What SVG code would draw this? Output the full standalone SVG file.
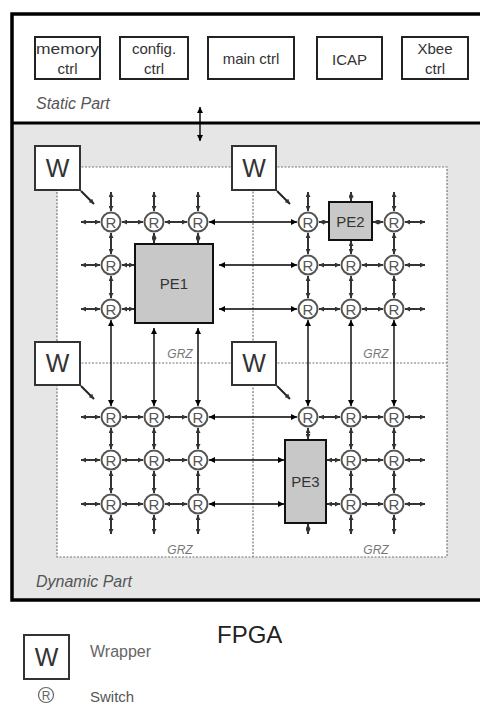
<svg xmlns="http://www.w3.org/2000/svg" width="480" height="706" viewBox="0 0 480 706">
<defs>
<marker id="ag" viewBox="0 0 6 6" refX="6" refY="3" markerWidth="5" markerHeight="5" markerUnits="userSpaceOnUse" orient="auto-start-reverse"><path d="M0,0 L6,3 L0,6 z" fill="#333"/></marker>
<marker id="ab" viewBox="0 0 6 6" refX="6" refY="3" markerWidth="6" markerHeight="6" markerUnits="userSpaceOnUse" orient="auto-start-reverse"><path d="M0,0 L6,3 L0,6 z" fill="#000"/></marker>
</defs>
<style>
text{font-family:"Liberation Sans",Arial,sans-serif}
.box{fill:#fff;stroke:#222;stroke-width:2}
.bt{font-size:15px;fill:#333;text-anchor:middle}
.lab{font-size:16px;font-style:italic;fill:#555}
.grz{font-size:12px;font-style:italic;fill:#777;text-anchor:middle}
.dot{fill:none;stroke:#777;stroke-width:1.2;stroke-dasharray:2 1.5}
.w{fill:#fff;stroke:#333;stroke-width:2}
.wt{font-size:25px;fill:#333;text-anchor:middle}
.sw circle{fill:#fff;stroke:#555;stroke-width:2}
.sw text{font-size:15px;fill:#555;text-anchor:middle}
.pe{fill:#c8c8c8;stroke:#111;stroke-width:2}
.pt{font-size:15px;fill:#333;text-anchor:middle}
.g line{stroke:#333;stroke-width:2;marker-start:url(#ag);marker-end:url(#ag)}
.k line{stroke:#000;stroke-width:1.4;marker-start:url(#ab);marker-end:url(#ab)}
.d line{stroke:#222;stroke-width:2;marker-end:url(#ag)}
</style>
<rect x="12" y="123" width="472" height="477" fill="#e6e6e6"/>
<rect x="57" y="167" width="390" height="390" fill="#fff"/>
<g id="frame">
<rect x="12" y="14" width="472" height="586" fill="none" stroke="#000" stroke-width="3.5"/>
<line x1="12" y1="123" x2="484" y2="123" stroke="#000" stroke-width="3"/>
<text class="lab" x="36" y="109">Static Part</text>
<text class="lab" x="36" y="587">Dynamic Part</text>
<text x="217" y="643" font-size="24" fill="#222">FPGA</text>
</g>
<g id="grz-zones">
<rect class="dot" x="57" y="167" width="390" height="390"/>
<line class="dot" x1="253" y1="167" x2="253" y2="557"/>
<line class="dot" x1="57" y1="363" x2="447" y2="363"/>
<text class="grz" x="180" y="358">GRZ</text>
<text class="grz" x="376" y="358">GRZ</text>
<text class="grz" x="180" y="554">GRZ</text>
<text class="grz" x="376" y="554">GRZ</text>
</g>
<g id="memory-ctrl"><rect class="box" x="35" y="37" width="65" height="42"/><text class="bt" x="67.5" y="54" textLength="63" lengthAdjust="spacingAndGlyphs">memory</text><text class="bt" x="67.5" y="74">ctrl</text></g>
<g id="config-ctrl"><rect class="box" x="120" y="37" width="68" height="42"/><text class="bt" x="154" y="54">config.</text><text class="bt" x="154" y="74">ctrl</text></g>
<g id="main-ctrl"><rect class="box" x="208" y="37" width="86" height="42"/><text class="bt" x="251" y="64">main ctrl</text></g>
<g id="icap"><rect class="box" x="317" y="37" width="65" height="42"/><text class="bt" x="349.5" y="65">ICAP</text></g>
<g id="xbee-ctrl"><rect class="box" x="402" y="37" width="66" height="42"/><text class="bt" x="435" y="54">Xbee</text><text class="bt" x="435" y="74">ctrl</text></g>
<g id="connectors">
<g class="k"><line x1="200" y1="107" x2="200" y2="141"/></g>
<g class="g">
<line x1="100" y1="222" x2="81" y2="222"/><line x1="100" y1="265" x2="81" y2="265"/><line x1="100" y1="309" x2="81" y2="309"/>
<line x1="111" y1="211" x2="111" y2="192"/><line x1="154" y1="211" x2="154" y2="192"/><line x1="198" y1="211" x2="198" y2="192"/>
<line x1="122" y1="222" x2="143" y2="222"/><line x1="165" y1="222" x2="187" y2="222"/>
<line x1="111" y1="233" x2="111" y2="254"/><line x1="111" y1="276" x2="111" y2="298"/>
<line x1="122" y1="265" x2="134" y2="265"/><line x1="122" y1="309" x2="134" y2="309"/>
<line x1="154" y1="233" x2="154" y2="243"/><line x1="198" y1="233" x2="198" y2="243"/>
<line x1="308" y1="211" x2="308" y2="192"/><line x1="351" y1="201" x2="351" y2="192"/><line x1="394" y1="211" x2="394" y2="192"/>
<line x1="319" y1="222" x2="328" y2="222"/><line x1="373" y1="222" x2="383" y2="222"/>
<line x1="405" y1="222" x2="425" y2="222"/><line x1="405" y1="265" x2="425" y2="265"/><line x1="405" y1="309" x2="425" y2="309"/>
<line x1="319" y1="265" x2="340" y2="265"/><line x1="362" y1="265" x2="383" y2="265"/>
<line x1="319" y1="309" x2="340" y2="309"/><line x1="362" y1="309" x2="383" y2="309"/>
<line x1="308" y1="233" x2="308" y2="254"/><line x1="308" y1="276" x2="308" y2="298"/>
<line x1="351" y1="241" x2="351" y2="254"/><line x1="351" y1="276" x2="351" y2="298"/>
<line x1="394" y1="233" x2="394" y2="254"/><line x1="394" y1="276" x2="394" y2="298"/>
<line x1="100" y1="417" x2="81" y2="417"/><line x1="100" y1="460" x2="81" y2="460"/><line x1="100" y1="504" x2="81" y2="504"/>
<line x1="122" y1="417" x2="143" y2="417"/><line x1="165" y1="417" x2="187" y2="417"/>
<line x1="122" y1="460" x2="143" y2="460"/><line x1="165" y1="460" x2="187" y2="460"/>
<line x1="122" y1="504" x2="143" y2="504"/><line x1="165" y1="504" x2="187" y2="504"/>
<line x1="111" y1="428" x2="111" y2="449"/><line x1="111" y1="471" x2="111" y2="493"/>
<line x1="154" y1="428" x2="154" y2="449"/><line x1="154" y1="471" x2="154" y2="493"/>
<line x1="198" y1="428" x2="198" y2="449"/><line x1="198" y1="471" x2="198" y2="493"/>
<line x1="111" y1="515" x2="111" y2="534"/><line x1="154" y1="515" x2="154" y2="534"/><line x1="198" y1="515" x2="198" y2="534"/>
<line x1="319" y1="417" x2="340" y2="417"/><line x1="362" y1="417" x2="383" y2="417"/>
<line x1="308" y1="428" x2="308" y2="439"/>
<line x1="327" y1="460" x2="340" y2="460"/><line x1="362" y1="460" x2="383" y2="460"/>
<line x1="327" y1="504" x2="340" y2="504"/><line x1="362" y1="504" x2="383" y2="504"/>
<line x1="405" y1="417" x2="425" y2="417"/><line x1="405" y1="460" x2="425" y2="460"/><line x1="405" y1="504" x2="425" y2="504"/>
<line x1="351" y1="428" x2="351" y2="449"/><line x1="351" y1="471" x2="351" y2="493"/>
<line x1="394" y1="428" x2="394" y2="449"/><line x1="394" y1="471" x2="394" y2="493"/>
<line x1="351" y1="515" x2="351" y2="534"/><line x1="394" y1="515" x2="394" y2="534"/><line x1="308" y1="524" x2="308" y2="534"/>
</g>
<g class="k">
<line x1="209" y1="222" x2="297" y2="222"/>
<line x1="219" y1="265" x2="297" y2="265"/>
<line x1="219" y1="309" x2="297" y2="309"/>
<line x1="111" y1="320" x2="111" y2="406"/>
<line x1="154" y1="328" x2="154" y2="406"/>
<line x1="198" y1="328" x2="198" y2="406"/>
<line x1="308" y1="320" x2="308" y2="406"/>
<line x1="351" y1="320" x2="351" y2="406"/>
<line x1="394" y1="320" x2="394" y2="406"/>
<line x1="209" y1="417" x2="297" y2="417"/>
<line x1="209" y1="460" x2="284" y2="460"/>
<line x1="209" y1="504" x2="284" y2="504"/>
</g>
<g class="d">
<line x1="81" y1="191" x2="94" y2="204"/>
<line x1="277" y1="191" x2="290" y2="204"/>
<line x1="81" y1="386" x2="94" y2="399"/>
<line x1="277" y1="386" x2="290" y2="399"/>
</g>
</g>
<g id="wrappers">
<g id="w-tl"><rect class="w" x="35" y="146" width="45" height="44"/><text class="wt" x="57.5" y="177">W</text></g>
<g id="w-tr"><rect class="w" x="232" y="146" width="44" height="44"/><text class="wt" x="254" y="177">W</text></g>
<g id="w-bl"><rect class="w" x="35" y="342" width="45" height="43"/><text class="wt" x="57.5" y="372">W</text></g>
<g id="w-br"><rect class="w" x="232" y="342" width="44" height="43"/><text class="wt" x="254" y="372">W</text></g>
</g>
<g id="pes">
<g id="pe1"><rect class="pe" x="135" y="244" width="78" height="79"/><text class="pt" x="174" y="289">PE1</text></g>
<g id="pe2"><rect class="pe" x="329" y="202" width="43" height="38"/><text class="pt" x="350.5" y="227">PE2</text></g>
<g id="pe3"><rect class="pe" x="285" y="440" width="41" height="83"/><text class="pt" x="305.5" y="487">PE3</text></g>
</g>
<g id="switches" class="sw">
<g id="s-tl-11"><circle cx="111" cy="222" r="9.5"/><text x="111" y="227.5">R</text></g>
<g id="s-tl-12"><circle cx="154" cy="222" r="9.5"/><text x="154" y="227.5">R</text></g>
<g id="s-tl-13"><circle cx="198" cy="222" r="9.5"/><text x="198" y="227.5">R</text></g>
<g id="s-tl-21"><circle cx="111" cy="265" r="9.5"/><text x="111" y="270.5">R</text></g>
<g id="s-tl-31"><circle cx="111" cy="309" r="9.5"/><text x="111" y="314.5">R</text></g>
<g id="s-tr-11"><circle cx="308" cy="222" r="9.5"/><text x="308" y="227.5">R</text></g>
<g id="s-tr-13"><circle cx="394" cy="222" r="9.5"/><text x="394" y="227.5">R</text></g>
<g id="s-tr-21"><circle cx="308" cy="265" r="9.5"/><text x="308" y="270.5">R</text></g>
<g id="s-tr-22"><circle cx="351" cy="265" r="9.5"/><text x="351" y="270.5">R</text></g>
<g id="s-tr-23"><circle cx="394" cy="265" r="9.5"/><text x="394" y="270.5">R</text></g>
<g id="s-tr-31"><circle cx="308" cy="309" r="9.5"/><text x="308" y="314.5">R</text></g>
<g id="s-tr-32"><circle cx="351" cy="309" r="9.5"/><text x="351" y="314.5">R</text></g>
<g id="s-tr-33"><circle cx="394" cy="309" r="9.5"/><text x="394" y="314.5">R</text></g>
<g id="s-bl-11"><circle cx="111" cy="417" r="9.5"/><text x="111" y="422.5">R</text></g>
<g id="s-bl-12"><circle cx="154" cy="417" r="9.5"/><text x="154" y="422.5">R</text></g>
<g id="s-bl-13"><circle cx="198" cy="417" r="9.5"/><text x="198" y="422.5">R</text></g>
<g id="s-bl-21"><circle cx="111" cy="460" r="9.5"/><text x="111" y="465.5">R</text></g>
<g id="s-bl-22"><circle cx="154" cy="460" r="9.5"/><text x="154" y="465.5">R</text></g>
<g id="s-bl-23"><circle cx="198" cy="460" r="9.5"/><text x="198" y="465.5">R</text></g>
<g id="s-bl-31"><circle cx="111" cy="504" r="9.5"/><text x="111" y="509.5">R</text></g>
<g id="s-bl-32"><circle cx="154" cy="504" r="9.5"/><text x="154" y="509.5">R</text></g>
<g id="s-bl-33"><circle cx="198" cy="504" r="9.5"/><text x="198" y="509.5">R</text></g>
<g id="s-br-11"><circle cx="308" cy="417" r="9.5"/><text x="308" y="422.5">R</text></g>
<g id="s-br-12"><circle cx="351" cy="417" r="9.5"/><text x="351" y="422.5">R</text></g>
<g id="s-br-13"><circle cx="394" cy="417" r="9.5"/><text x="394" y="422.5">R</text></g>
<g id="s-br-22"><circle cx="351" cy="460" r="9.5"/><text x="351" y="465.5">R</text></g>
<g id="s-br-23"><circle cx="394" cy="460" r="9.5"/><text x="394" y="465.5">R</text></g>
<g id="s-br-32"><circle cx="351" cy="504" r="9.5"/><text x="351" y="509.5">R</text></g>
<g id="s-br-33"><circle cx="394" cy="504" r="9.5"/><text x="394" y="509.5">R</text></g>
</g>
<g id="legend">
<g id="legend-wrapper"><rect class="w" x="24" y="635" width="45" height="44"/><text class="wt" x="46.5" y="666">W</text><text x="90" y="657" font-size="16" fill="#666">Wrapper</text></g>
<g id="legend-switch"><circle cx="46" cy="695" r="7.5" fill="#fff" stroke="#666" stroke-width="1.2"/><text x="46" y="699.5" font-size="12" fill="#666" text-anchor="middle">R</text><text x="90" y="702" font-size="15" fill="#555">Switch</text></g>
</g>
</svg>
